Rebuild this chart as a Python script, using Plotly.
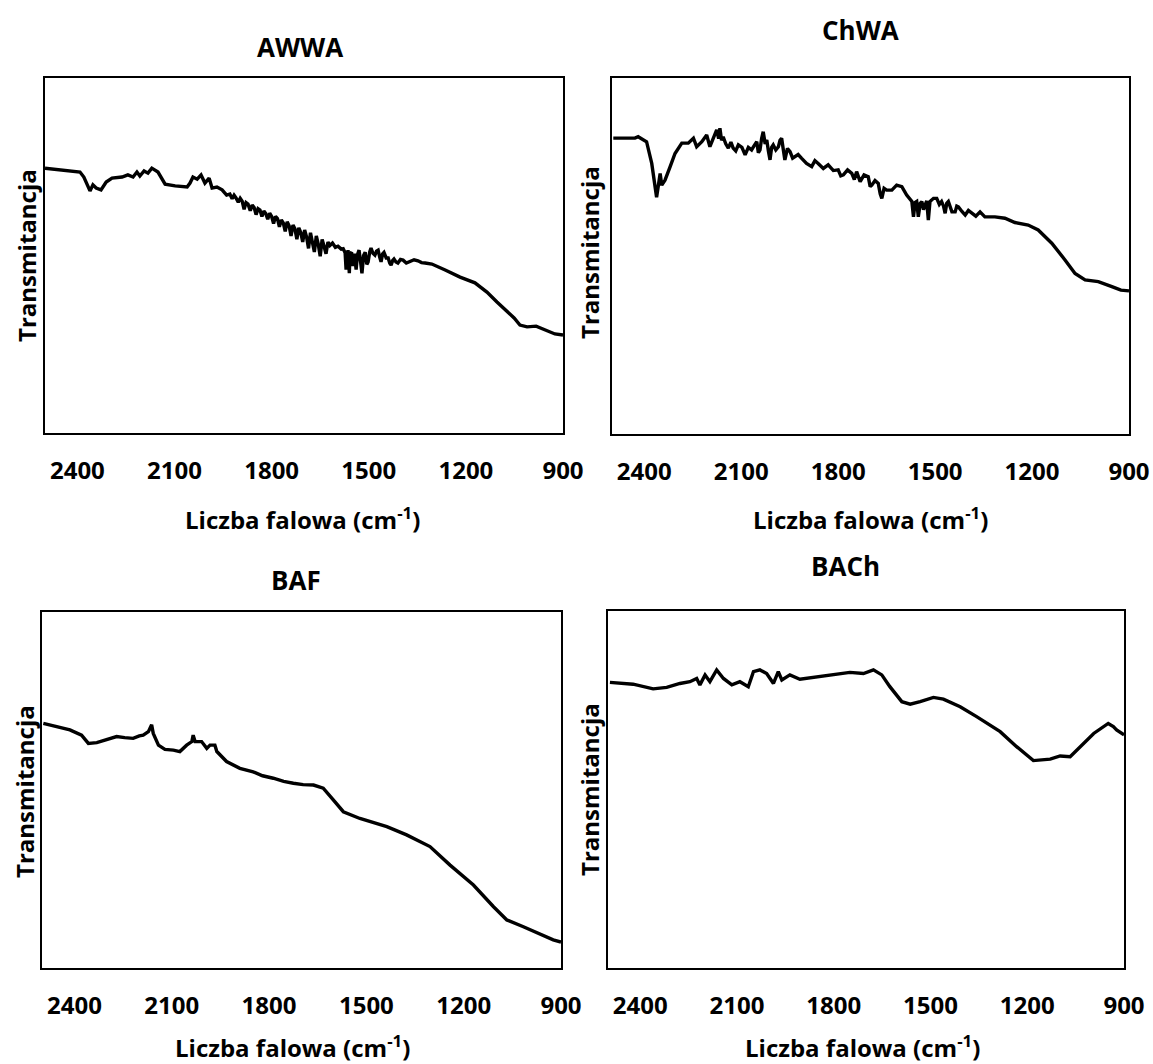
import plotly.graph_objects as go

W, H = 1153, 1064

panel_titles = ["AWWA", "ChWA", "BAF", "BACh"]
tick_vals = [2400, 2100, 1800, 1500, 1200, 900]
tick_text = ["2400", "2100", "1800", "1500", "1200", "900"]
x_title = "Liczba falowa (cm<sup>-1</sup>)"
y_title = "Transmitancja"

awwa_wn = [2500, 2392, 2380, 2361, 2352, 2342, 2327, 2311, 2293, 2262, 2244, 2228, 2216, 2207, 2194,
           2182, 2170, 2160, 2151, 2129, 2098, 2061, 2052, 2043, 2030, 2018, 2006, 1993, 1984, 1969,
           1953, 1939, 1929, 1922, 1916, 1910, 1903, 1897, 1891, 1885, 1879, 1873, 1866, 1860, 1854,
           1848, 1842, 1836, 1830, 1824, 1818, 1812, 1806, 1800, 1794, 1788, 1782, 1776, 1770, 1764,
           1758, 1752, 1746, 1740, 1734, 1728, 1722, 1716, 1710, 1704, 1698, 1692, 1686, 1680, 1674,
           1668, 1662, 1656, 1650, 1644, 1638, 1632, 1626, 1620, 1612, 1603, 1595, 1585, 1579, 1573,
           1570, 1566, 1564, 1560, 1558, 1553, 1549, 1544, 1539, 1535, 1530, 1525, 1521, 1516, 1511,
           1506, 1502, 1497, 1493, 1487, 1481, 1476, 1471, 1466, 1462, 1457, 1453, 1446, 1440, 1435,
           1431, 1426, 1422, 1416, 1410, 1402, 1394, 1384, 1373, 1360, 1348, 1337, 1326, 1305, 1264,
           1218, 1172, 1135, 1104, 1076, 1051, 1033, 1011, 983, 955, 925, 900]
awwa_t = [74.6, 73.5, 72.1, 68.2, 69.9, 69.0, 68.5, 70.7, 71.8, 72.1, 72.7, 72.1, 73.5, 72.4, 73.8,
          73.2, 74.6, 74.1, 73.5, 70.1, 69.6, 69.3, 70.4, 72.1, 71.5, 72.7, 70.4, 71.8, 69.0, 69.3,
          68.5, 67.0, 67.3, 66.0, 67.0, 66.2, 65.0, 66.1, 65.3, 63.0, 64.9, 64.5, 62.6, 64.2, 63.5,
          61.5, 63.2, 62.8, 61.0, 62.5, 61.8, 60.2, 61.9, 61.0, 59.0, 61.0, 60.4, 58.1, 60.0, 59.2,
          56.8, 59.5, 58.4, 55.5, 58.6, 57.5, 54.6, 57.8, 56.5, 53.8, 57.2, 55.2, 52.0, 56.4, 54.0,
          51.0, 55.5, 53.2, 49.8, 54.5, 52.6, 50.5, 53.8, 52.8, 53.5, 52.3, 52.6, 51.8, 51.9, 50.8,
          46.0, 51.0, 51.5, 45.0, 50.5, 50.9, 47.0, 50.5, 46.0, 50.2, 51.5, 48.0, 45.0, 50.0, 50.9,
          47.5, 48.2, 51.0, 52.1, 50.6, 50.1, 51.2, 51.5, 49.5, 48.2, 50.5, 50.9, 49.3, 49.3, 47.8,
          47.3, 48.6, 49.0, 48.2, 47.9, 48.9, 48.7, 47.9, 48.2, 48.8, 48.5, 48.0, 47.9, 47.6, 45.9,
          43.9, 42.3, 39.7, 36.9, 34.6, 32.4, 30.4, 29.9, 30.1, 29.0, 27.9, 27.6]

chwa_wn = [2496, 2429, 2419, 2393, 2377, 2367, 2362, 2357, 2351, 2346, 2336, 2320, 2305, 2284, 2264,
           2248, 2238, 2222, 2207, 2197, 2186, 2176, 2170, 2166, 2161, 2156, 2148, 2140, 2132, 2125,
           2117, 2109, 2098, 2088, 2078, 2068, 2060, 2052, 2047, 2042, 2037, 2032, 2026, 2021, 2016,
           2011, 2006, 2001, 1993, 1985, 1980, 1975, 1970, 1965, 1957, 1949, 1941, 1934, 1924, 1913,
           1898, 1882, 1872, 1862, 1846, 1831, 1815, 1800, 1792, 1784, 1771, 1758, 1750, 1743, 1737,
           1732, 1720, 1707, 1701, 1696, 1686, 1676, 1670, 1665, 1658, 1650, 1634, 1619, 1603, 1588,
           1572, 1567, 1562, 1557, 1552, 1546, 1541, 1536, 1531, 1526, 1521, 1516, 1505, 1495, 1487,
           1480, 1474, 1469, 1464, 1459, 1448, 1438, 1433, 1428, 1417, 1407, 1397, 1387, 1374, 1361,
           1346, 1315, 1284, 1253, 1212, 1181, 1139, 1098, 1067, 1036, 995, 953, 925, 900]
chwa_t = [83.1, 83.1, 83.5, 82.1, 76.0, 68.5, 66.5, 69.5, 73.2, 69.9, 71.3, 75.1, 78.8, 81.7, 81.7,
          83.1, 80.7, 82.1, 84.0, 80.7, 83.1, 85.4, 83.0, 85.9, 82.5, 83.5, 81.5, 80.3, 82.0, 80.3,
          79.5, 81.2, 80.5, 78.4, 80.5, 79.8, 81.0, 82.1, 79.0, 79.8, 83.0, 84.9, 81.5, 82.6, 79.5,
          77.0, 80.5, 81.2, 79.8, 80.7, 82.5, 83.1, 80.0, 77.0, 80.2, 79.3, 77.5, 77.9, 78.5, 77.4,
          76.0, 75.1, 76.8, 76.0, 74.6, 75.6, 74.0, 74.2, 72.5, 72.8, 74.2, 73.2, 71.5, 73.7, 72.0,
          70.9, 72.8, 72.3, 69.5, 69.9, 71.2, 70.4, 67.5, 66.2, 69.0, 68.5, 68.5, 69.9, 69.5, 67.1,
          65.3, 61.0, 65.0, 65.3, 61.0, 64.8, 65.3, 63.0, 64.3, 65.5, 60.1, 65.3, 66.2, 66.2, 64.5,
          65.3, 64.0, 62.0, 64.8, 65.3, 62.4, 62.4, 64.0, 63.8, 62.5, 61.5, 62.8, 62.0, 61.2, 62.4,
          61.0, 61.0, 60.6, 59.4, 58.7, 57.3, 53.6, 48.9, 45.1, 43.3, 42.8, 41.4, 40.4, 40.2]

baf_wn = [2496, 2455, 2414, 2378, 2357, 2331, 2300, 2270, 2245, 2219, 2200, 2188, 2172, 2162, 2157,
          2141, 2121, 2095, 2075, 2054, 2038, 2034, 2028, 2008, 1992, 1982, 1967, 1961, 1931, 1890,
          1849, 1820, 1787, 1755, 1725, 1695, 1663, 1633, 1602, 1571, 1520, 1480, 1437, 1376, 1304,
          1242, 1170, 1108, 1067, 1016, 970, 924, 900]
baf_t = [68.7, 67.8, 66.9, 65.4, 63.1, 63.3, 64.2, 65.0, 64.7, 64.5, 65.2, 65.4, 66.4, 68.3, 65.9,
         62.6, 61.4, 61.2, 60.8, 62.6, 63.6, 65.4, 63.6, 63.6, 61.7, 62.6, 62.6, 60.8, 58.0, 56.1,
         55.1, 54.0, 53.3, 52.4, 51.9, 51.5, 51.4, 50.5, 47.2, 43.9, 42.0, 41.0, 39.7, 37.4, 34.1,
         28.9, 23.3, 17.2, 13.5, 11.6, 9.8, 7.9, 7.3]

bach_wn = [2494, 2422, 2360, 2318, 2277, 2246, 2225, 2215, 2199, 2184, 2163, 2142, 2116, 2091, 2065,
           2049, 2029, 2008, 1987, 1972, 1961, 1936, 1905, 1853, 1801, 1750, 1708, 1677, 1651, 1626,
           1589, 1563, 1532, 1491, 1460, 1408, 1357, 1284, 1233, 1181, 1129, 1098, 1067, 1036, 994,
           949, 933, 923, 900]
bach_t = [80.0, 79.5, 78.2, 78.6, 79.7, 80.2, 81.1, 79.3, 82.1, 80.2, 83.5, 81.1, 79.3, 80.2, 78.8,
          83.0, 83.5, 82.5, 79.7, 83.0, 80.7, 82.1, 80.9, 81.6, 82.1, 82.8, 82.5, 83.5, 82.1, 78.8,
          74.6, 73.9, 74.6, 75.8, 75.3, 73.2, 70.4, 66.2, 62.0, 58.1, 58.5, 59.4, 59.2, 62.0, 65.7,
          68.5, 67.6, 66.7, 65.3]

series = [(awwa_wn, awwa_t), (chwa_wn, chwa_t), (baf_wn, baf_t), (bach_wn, bach_t)]

# plot-area frames in pixels: left, top, right, bottom
frames = [(45, 78, 563, 433), (612, 78, 1129, 434), (42, 612, 561, 968), (608, 611, 1124, 968)]
title_pos = [(300, 47), (860, 30), (296, 580), (845, 566)]
xtitle_pos = [(302, 518), (870, 518), (292, 1046), (862, 1046)]
ytitle_pos = [(26, 256), (590, 253), (24, 792), (590, 790)]

FONT = "Open Sans"
FS = 24
TFS = 26


def px(x):
    return x / W


def py(y):
    return 1 - y / H


fig = go.Figure()
layout = dict(
    width=W, height=H, autosize=False, margin=dict(l=0, r=0, t=0, b=0, autoexpand=False),
    paper_bgcolor="white", plot_bgcolor="white", showlegend=False,
    font=dict(family=FONT, size=FS, color="black", weight="bold"),
)
annotations = []
for i, ((wn, t), (l, tp, r, b)) in enumerate(zip(series, frames)):
    n = "" if i == 0 else str(i + 1)
    fig.add_trace(go.Scatter(x=wn, y=t, mode="lines", line=dict(color="black", width=3.4),
                             xaxis="x" + n, yaxis="y" + n, hoverinfo="skip"))
    layout["xaxis" + n] = dict(
        domain=[px(l), px(r)], range=[2500, 900], anchor="y" + n, automargin=False,
        tickvals=tick_vals, ticktext=tick_text, ticks="", showgrid=False, zeroline=False,
        showline=True, linecolor="black", linewidth=2, mirror=True, ticklabelstandoff=15,
        tickfont=dict(family=FONT, size=FS, color="black", weight="bold"),
    )
    layout["yaxis" + n] = dict(
        domain=[py(b), py(tp)], range=[0, 100], anchor="x" + n, automargin=False,
        showticklabels=False, ticks="", showgrid=False, zeroline=False,
        showline=True, linecolor="black", linewidth=2, mirror=True,
    )
    tx, ty = title_pos[i]
    annotations.append(dict(text=panel_titles[i], x=px(tx), y=py(ty), xref="paper", yref="paper",
                            showarrow=False, xanchor="center", yanchor="middle",
                            font=dict(family=FONT, size=TFS, color="black", weight="bold")))
    ax, ay = xtitle_pos[i]
    annotations.append(dict(text=x_title, x=px(ax), y=py(ay), xref="paper", yref="paper",
                            showarrow=False, xanchor="center", yanchor="middle",
                            font=dict(family=FONT, size=FS, color="black", weight="bold")))
    yx, yy = ytitle_pos[i]
    annotations.append(dict(text=y_title, x=px(yx), y=py(yy), xref="paper", yref="paper",
                            showarrow=False, xanchor="center", yanchor="middle", textangle=-90,
                            font=dict(family=FONT, size=FS, color="black", weight="bold")))
layout["annotations"] = annotations
fig.update_layout(**layout)
fig.write_html(
    "out.html",
    config={"displayModeBar": False, "responsive": False},
    post_script=(
        "document.documentElement.style.margin='0';"
        "document.documentElement.style.overflow='hidden';"
        "document.body.style.margin='0';"
        "document.body.style.overflow='hidden';"
    ),
)
